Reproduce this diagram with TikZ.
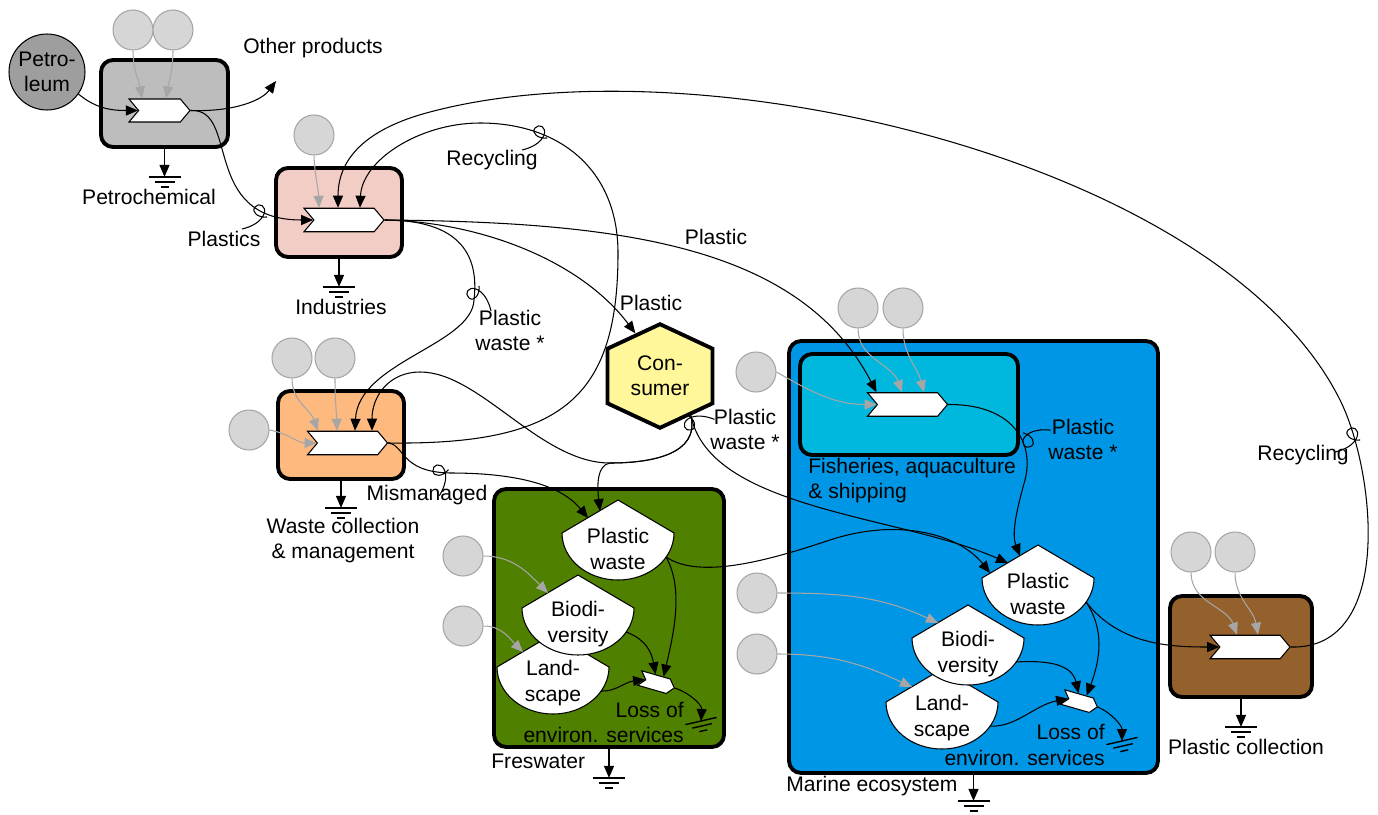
\documentclass[tikz,border=0pt]{standalone}
\usepackage{fontspec}
\setmainfont{Liberation Sans}
\usepackage{tikz}
\usetikzlibrary{arrows.meta,positioning,shapes.symbols,calc}
\usepackage{xcolor}

\definecolor{oilGray}{RGB}{158,158,158}
\definecolor{petroGray}{RGB}{189,189,189}
\definecolor{srcFill}{RGB}{214,214,214}
\definecolor{srcLine}{RGB}{166,166,166}
\definecolor{indPink}{RGB}{242,205,198}
\definecolor{wasteOrange}{RGB}{253,185,126}
\definecolor{freshGreen}{RGB}{79,128,0}
\definecolor{marineBlue}{RGB}{0,150,230}
\definecolor{fishCyan}{RGB}{0,183,222}
\definecolor{collBrown}{RGB}{148,96,44}
\definecolor{consYellow}{RGB}{255,247,154}

\tikzset{
  flow/.style={-{Triangle[length=0.24cm,width=0.2cm]}, line width=0.6pt},
  srcflow/.style={flow, srcLine},
  subsys/.style={draw, rounded corners=0.24cm, line width=2.2pt, inner sep=0pt},
  prodsym/.style={signal, signal to=east, signal from=west, signal pointer angle=100, draw, fill=white, line width=0.6pt, inner sep=0pt, minimum width=1.6cm, minimum height=0.47cm},
  src/.style={circle, draw=srcLine, fill=srcFill, line width=0.6pt, minimum size=0.8cm, inner sep=0pt},
  lbl/.style={inner sep=0pt, align=center},
  tankline/.style={draw, fill=white, line width=0.6pt},
  ground/.pic={\draw[line width=0.8pt] (-16,0) -- (16,0) (-10,5) -- (10,5) (-4,10) -- (4,10);}
}

\newcommand{\tank}[4]{%
  \begin{scope}[shift={(#2,#3)}]
    \filldraw[tankline] (0,0) -- (56,33) .. controls (56,59) and (31,80) .. (0,80)
      .. controls (-31,80) and (-56,59) .. (-56,33) -- cycle;
    \coordinate (#1tl) at (-18,11);
    \coordinate (#1l) at (-30,18);
    \coordinate (#1ll) at (-48,28);
    \coordinate (#1o) at (48,57);
    \node[lbl] (#1) at (0,49) {#4};
  \end{scope}}

\newcommand{\tagloop}[3]{%
  \draw[line width=0.6pt, shift={(#1,#2)}, rotate=#3]
    (-18,17) .. controls (-9,15) and (1,10) .. (4,2)
    .. controls (7,-6) and (-1,-10) .. (-5,-5)
    .. controls (-9,0) and (-2,6) .. (7,5);}

\begin{document}
\begin{tikzpicture}[x=0.02cm, y=-0.02cm, font=\fontsize{12}{14.4}\selectfont]
\fill[white] (0,0) rectangle (1378,814);
\useasboundingbox (0,0) rectangle (1378,814);

\node[subsys, fill=petroGray, minimum width=2.54cm, minimum height=1.74cm] (petroBox) at (164.5,103.5) {};
\node[subsys, fill=indPink, minimum width=2.52cm, minimum height=1.78cm] (indBox) at (339,212.5) {};
\node[subsys, fill=wasteOrange, minimum width=2.52cm, minimum height=1.76cm] (wasteBox) at (341,435) {};
\node[subsys, fill=freshGreen, minimum width=4.6cm, minimum height=5.16cm] (freshBox) at (609,618) {};
\node[subsys, fill=marineBlue, minimum width=7.38cm, minimum height=8.64cm] (marineBox) at (973.5,557) {};
\node[subsys, fill=fishCyan, minimum width=4.36cm, minimum height=2.02cm] (fishBox) at (909,404.5) {};
\node[subsys, fill=collBrown, minimum width=2.84cm, minimum height=2.02cm] (collBox) at (1241,646.5) {};

\node[prodsym, minimum width=1.22cm, minimum height=0.46cm] (petroP) at (159.5,110.5) {};
\node[prodsym] (indP) at (344,220) {};
\node[prodsym] (wasteP) at (347.5,443) {};
\node[prodsym] (fishP) at (907.5,404.5) {};
\node[prodsym] (collP) at (1250,647) {};
\node[prodsym, minimum width=0.72cm, minimum height=0.3cm, rotate=-16] (lossF) at (657,683) {};
\node[prodsym, minimum width=0.72cm, minimum height=0.3cm, rotate=-16] (lossM) at (1080,702) {};

\tank{landF}{553}{634}{Land-\\scape}
\tank{bioF}{578}{575}{Biodi-\\versity}
\tank{pwF}{618}{500}{Plastic\\waste}
\tank{landM}{942}{669}{Land-\\scape}
\tank{bioM}{968}{605}{Biodi-\\versity}
\tank{pwM}{1038}{545}{Plastic\\waste}

\node[signal, signal to=north and south, signal pointer angle=130, draw, line width=2.2pt, fill=consYellow, minimum width=2.1cm, minimum height=1.64cm, align=center, inner sep=0pt] (cons) at (660,376) {Con-\\sumer};
\node[circle, draw, fill=oilGray, line width=0.6pt, minimum size=1.52cm, inner sep=0pt, align=center] (oil) at (47,72) {Petro-\\leum};

\node[src] (sP1) at (133,30) {};
\node[src] (sP2) at (173,30) {};
\node[src] (sI) at (314,135) {};
\node[src] (sW1) at (292,358) {};
\node[src] (sW2) at (335,358) {};
\node[src] (sW3) at (249,430) {};
\node[src] (sF1) at (858,308) {};
\node[src] (sF2) at (903,308) {};
\node[src] (sF3) at (756,372) {};
\node[src] (sBF) at (463,556) {};
\node[src] (sLF) at (463,626) {};
\node[src] (sBM) at (757,593) {};
\node[src] (sLM) at (757,654) {};
\node[src] (sC1) at (1191,552) {};
\node[src] (sC2) at (1235,552) {};

\draw[srcflow] (sP1.south) to[out=-90, in=100] ([xshift=-0.35cm]petroP.north);
\draw[srcflow] (sP2.south) to[out=-90, in=80] ([xshift=0.13cm]petroP.north);
\draw[srcflow] (sI.south) to[out=-88, in=92] ([xshift=-0.5cm]indP.north);
\draw[srcflow] (sW1.south) to[out=-90, in=110] ([xshift=-0.59cm]wasteP.north);
\draw[srcflow] (sW2.south) to[out=-90, in=92] ([xshift=-0.21cm]wasteP.north);
\draw[srcflow] (sW3.east) to[out=-10, in=180] (wasteP.west);
\draw[srcflow] (sF1.south) to[out=-90, in=110] ([xshift=-0.11cm]fishP.north);
\draw[srcflow] (sF2.south) to[out=-90, in=105] ([xshift=0.33cm]fishP.north);
\draw[srcflow] (sF3.east) to[out=-30, in=180] (fishP.west);
\draw[srcflow] (sBF.east) to[out=0, in=135] (bioFl);
\draw[srcflow] (sLF.east) to[out=0, in=135] (landFl);
\draw[srcflow] (sBM.east) to[out=0, in=155] (bioMl);
\draw[srcflow] (sLM.east) to[out=0, in=155] (landMl);
\draw[srcflow] (sC1.south) to[out=-90, in=110] ([xshift=-0.26cm]collP.north);
\draw[srcflow] (sC2.south) to[out=-90, in=100] ([xshift=0.16cm]collP.north);

\coordinate (otherEnd) at (276,81);
\draw[flow] (oil.-35) to[out=-40, in=180] (petroP.west);
\draw[flow] (petroP.east) .. controls (235,112) and (262,100) .. (otherEnd);
\draw[flow] (petroP.east) .. controls (240,108) and (200,220) .. (indP.west);
\draw[flow] (indP.east) .. controls (480,222) and (580,260) .. (cons.120);
\draw[flow] (indP.east) .. controls (620,222) and (800,245) .. ([xshift=-0.62cm]fishP.north);
\draw[flow] (indP.east) .. controls (470,220) and (478,265) .. (474,300)
  .. controls (472,345) and (358,362) .. ([xshift=0.15cm]wasteP.north);
\draw[flow] (wasteP.east) .. controls (560,445) and (618,400) .. (618,253)
  .. controls (618,170) and (560,123) .. (480,123)
  .. controls (420,123) and (362,160) .. ([xshift=0.32cm]indP.north);
\draw[flow] (collP.east) .. controls (1395,650) and (1375,470) .. (1340,400)
  .. controls (1220,160) and (700,40) .. (430,112)
  .. controls (380,125) and (338,150) .. ([xshift=-0.12cm]indP.north);
\draw[flow] (wasteP.east) .. controls (405,445) and (400,472) .. (450,473)
  .. controls (530,473) and (565,490) .. (pwFl);
\draw[flow] (cons.-52) .. controls (700,455) and (650,463) .. (610,463)
  .. controls (540,463) and (480,372) .. (420,372)
  .. controls (390,372) and (372,395) .. ([xshift=0.49cm]wasteP.north);
\draw[flow] (cons.-52) .. controls (700,455) and (650,463) .. (610,463)
  .. controls (597,465) and (597,485) .. (pwFtl);
\draw[flow] (cons.-52) .. controls (710,510) and (900,515) .. (pwMl);
\draw[flow] (fishP.east) .. controls (1010,404) and (1035,440) .. (1025,480)
  .. controls (1015,515) and (1012,535) .. (pwMtl);
\draw[flow] (pwFo) .. controls (700,580) and (770,560) .. (830,540)
  .. controls (900,517) and (960,535) .. (pwMll);
\draw[flow] (pwMo) .. controls (1120,645) and (1170,647) .. (collP.west);

\draw[flow] (pwFo) .. controls (685,590) and (672,640) .. (lossF.60);
\draw[flow] (bioFo) .. controls (648,640) and (652,655) .. (lossF.115);
\draw[flow] (landFo) .. controls (615,692) and (625,682) .. (lossF.west);
\draw[flow] (pwMo) .. controls (1105,630) and (1100,660) .. (lossM.60);
\draw[flow] (bioMo) .. controls (1050,660) and (1072,665) .. (lossM.115);
\draw[flow] (landMo) .. controls (1015,728) and (1035,705) .. (lossM.west);

\coordinate (gLossF) at (701,721);
\coordinate (gLossM) at (1122,741);
\draw[flow] (lossF.east) .. controls (690,693) and (702,705) .. (gLossF);
\draw[flow] (lossM.east) .. controls (1110,712) and (1122,725) .. (gLossM);
\pic[rotate=13] at (gLossF) {ground};
\pic[rotate=13] at (gLossM) {ground};

\draw[flow] (petroBox.south) -- ++(0,28) coordinate (gPetro);
\draw[flow] (indBox.south) -- ++(0,28) coordinate (gInd);
\draw[flow] (wasteBox.south) -- ++(0,27) coordinate (gWaste);
\draw[flow] (freshBox.south) -- ++(0,29) coordinate (gFresh);
\draw[flow] (marineBox.south) -- ++(0,26) coordinate (gMarine);
\draw[flow] (collBox.south) -- ++(0,28) coordinate (gColl);
\foreach \g in {gPetro,gInd,gWaste,gFresh,gMarine,gColl}
  \pic at (\g) {ground};

\tagloop{260}{212}{0}
\tagloop{540}{133}{0}
\tagloop{474}{293}{90}
\tagloop{440}{471}{45}
\tagloop{690}{423}{145}
\tagloop{1028}{440}{160}
\tagloop{1353}{435}{0}

\node[lbl] (otherLbl) at (313,48) {Other products};
\node[lbl] (petroLbl) at (149,197) {Petrochemical};
\node[lbl] (plasticsLbl) at (224,239) {Plastics};
\node[lbl] (indLbl) at (341,307) {Industries};
\node[lbl] (recycLbl) at (492,160) {Recycling};
\node[lbl] (toFishLbl) at (716,237) {Plastic};
\node[lbl] (toConsLbl) at (651,303) {Plastic};
\node[lbl] (indWasteLbl) at (510,330.5) {Plastic\\waste *};
\node[lbl] (wasteLbl) at (343,540.5) {Waste collection\\\& management};
\node[lbl] (mismLbl) at (427,495) {Mismanaged};
\node[lbl] (consWasteLbl) at (745,429.5) {Plastic\\waste *};
\node[lbl, align=left, anchor=west] (fishLbl) at (808,480.5) {Fisheries, aquaculture\\\& shipping};
\node[lbl] (fishWasteLbl) at (1083,439.5) {Plastic\\waste *};
\node[lbl] (recycRLbl) at (1303,455) {Recycling};
\node[lbl] (collLbl) at (1246,747) {Plastic collection};
\node[lbl, anchor=west] (freshLbl) at (491,761) {Freswater};
\node[lbl, anchor=west] (marineLbl) at (786,786) {Marine ecosystem};
\node[lbl, align=right, anchor=east] (lossFLbl) at (684,722.5) {Loss of\\environ. services};
\node[lbl, align=right, anchor=east] (lossMLbl) at (1105,745) {Loss of\\environ. services};
\end{tikzpicture}
\end{document}
